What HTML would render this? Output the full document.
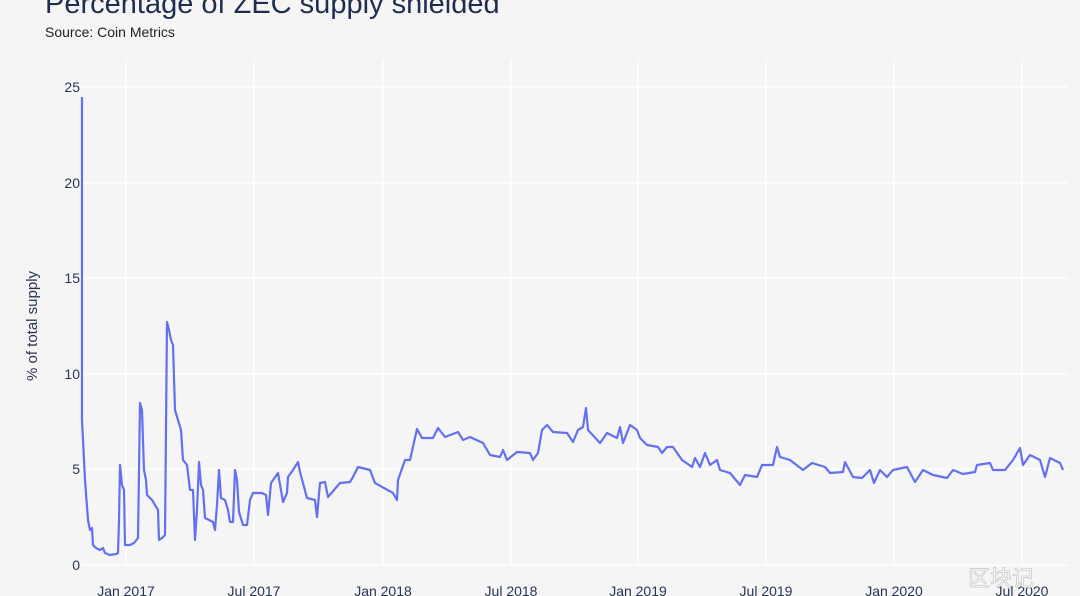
<!DOCTYPE html>
<html><head><meta charset="utf-8"><style>
body{margin:0;width:1080px;height:596px;overflow:hidden;background:#f5f5f6;font-family:"Liberation Sans","Noto Sans CJK SC",sans-serif}
</style></head><body>
<svg width="1080" height="596" xmlns="http://www.w3.org/2000/svg" style="position:absolute;left:0;top:0">
<rect width="1080" height="596" fill="#f5f5f6"/>
<text x="45" y="13" font-size="29" fill="#1f2d4e">Percentage of ZEC supply shielded</text>
<text x="45" y="37" font-size="14" fill="#222">Source: Coin Metrics</text>
<g stroke="#fff" stroke-width="1.5">
<line x1="82" y1="87" x2="1068" y2="87"/><line x1="82" y1="183" x2="1068" y2="183"/>
<line x1="82" y1="278" x2="1068" y2="278"/><line x1="82" y1="374" x2="1068" y2="374"/>
<line x1="82" y1="469" x2="1068" y2="469"/><line x1="82" y1="565" x2="1068" y2="565"/>
<line x1="126" y1="60" x2="126" y2="565"/><line x1="254" y1="60" x2="254" y2="565"/>
<line x1="383" y1="60" x2="383" y2="565"/><line x1="511" y1="60" x2="511" y2="565"/>
<line x1="638" y1="60" x2="638" y2="565"/><line x1="766" y1="60" x2="766" y2="565"/>
<line x1="894" y1="60" x2="894" y2="565"/><line x1="1022" y1="60" x2="1022" y2="565"/>
</g>
<g font-size="14" fill="#2a3550" text-anchor="end">
<text x="80" y="92">25</text><text x="80" y="188">20</text><text x="80" y="283">15</text>
<text x="80" y="379">10</text><text x="80" y="474">5</text><text x="80" y="570">0</text>
</g>
<g font-size="14" fill="#2a3550" text-anchor="middle">
<text x="126" y="596">Jan 2017</text><text x="254" y="596">Jul 2017</text><text x="383" y="596">Jan 2018</text>
<text x="511" y="596">Jul 2018</text><text x="638" y="596">Jan 2019</text><text x="766" y="596">Jul 2019</text>
<text x="894" y="596">Jan 2020</text><text x="1022" y="596">Jul 2020</text>
</g>
<text transform="translate(37,326) rotate(-90)" font-size="15" fill="#2a3550" text-anchor="middle">% of total supply</text>
<polyline fill="none" stroke="#6470ee" stroke-width="2.2" stroke-linejoin="round" points="
82,97 82,420 85,480 88,520 90,530 92,528 93,545 96,548 100,550 103,548 105,553 110,555 116,554 118,553 119,520 120,465 122,485 124,490 125,545 130,545 134,543 138,538 140,403 142,410 144,470 146,480 147,495 152,500 158,510 159,540 162,538 165,535 167,322 169,330 171,340 173,345 175,410 178,420 181,430 183,460 187,465 190,490 193,490 195,540 197,510 199,462 201,485 203,490 205,518 213,522 215,530 217,505 219,470 221,498 225,500 228,510 230,522 233,522 235,470 237,480 239,512 243,525 247,525 250,500 253,493 262,493 266,495 268,515 271,483 278,473 283,502 287,493 288,477 293,470 298,462
300,472 307,498 315,500 317,517 320,483 325,482 328,497 340,483 350,482 353,477 358,467 370,470 375,483 393,493 397,500 398,480 405,460 410,460 417,429 422,438 433,438 438,428 445,437 458,432 463,440 470,437 483,443 490,455 500,457 503,450 507,460 517,452 530,453 533,460 538,453 542,430 547,425 553,432 567,433 573,442 578,430 583,427 586,408 588,430 600,443 607,433 617,438 620,427 623,443 630,425 637,430 640,438 647,445 658,447 662,453 667,447 673,447 682,460 692,467 695,458 700,467
705,453 710,465 717,460 720,470 730,473 740,485 745,475 757,477 762,465 773,465 777,447 780,457 790,460 803,470 812,463 825,467 830,473 843,472 845,462 853,477 862,478 870,470 874,483 880,470 887,477 893,470 907,467 915,482 923,470 933,475 947,478 953,470 963,474 975,472 977,465 990,463 993,470 1005,470 1013,460 1020,448 1023,465 1030,455 1040,460 1045,477 1050,458 1060,463 1063,470"/>
<text x="968" y="586" font-size="22" fill="#fff" stroke="#bbb" stroke-width="0.6">区块记</text>
</svg>
</body></html>
